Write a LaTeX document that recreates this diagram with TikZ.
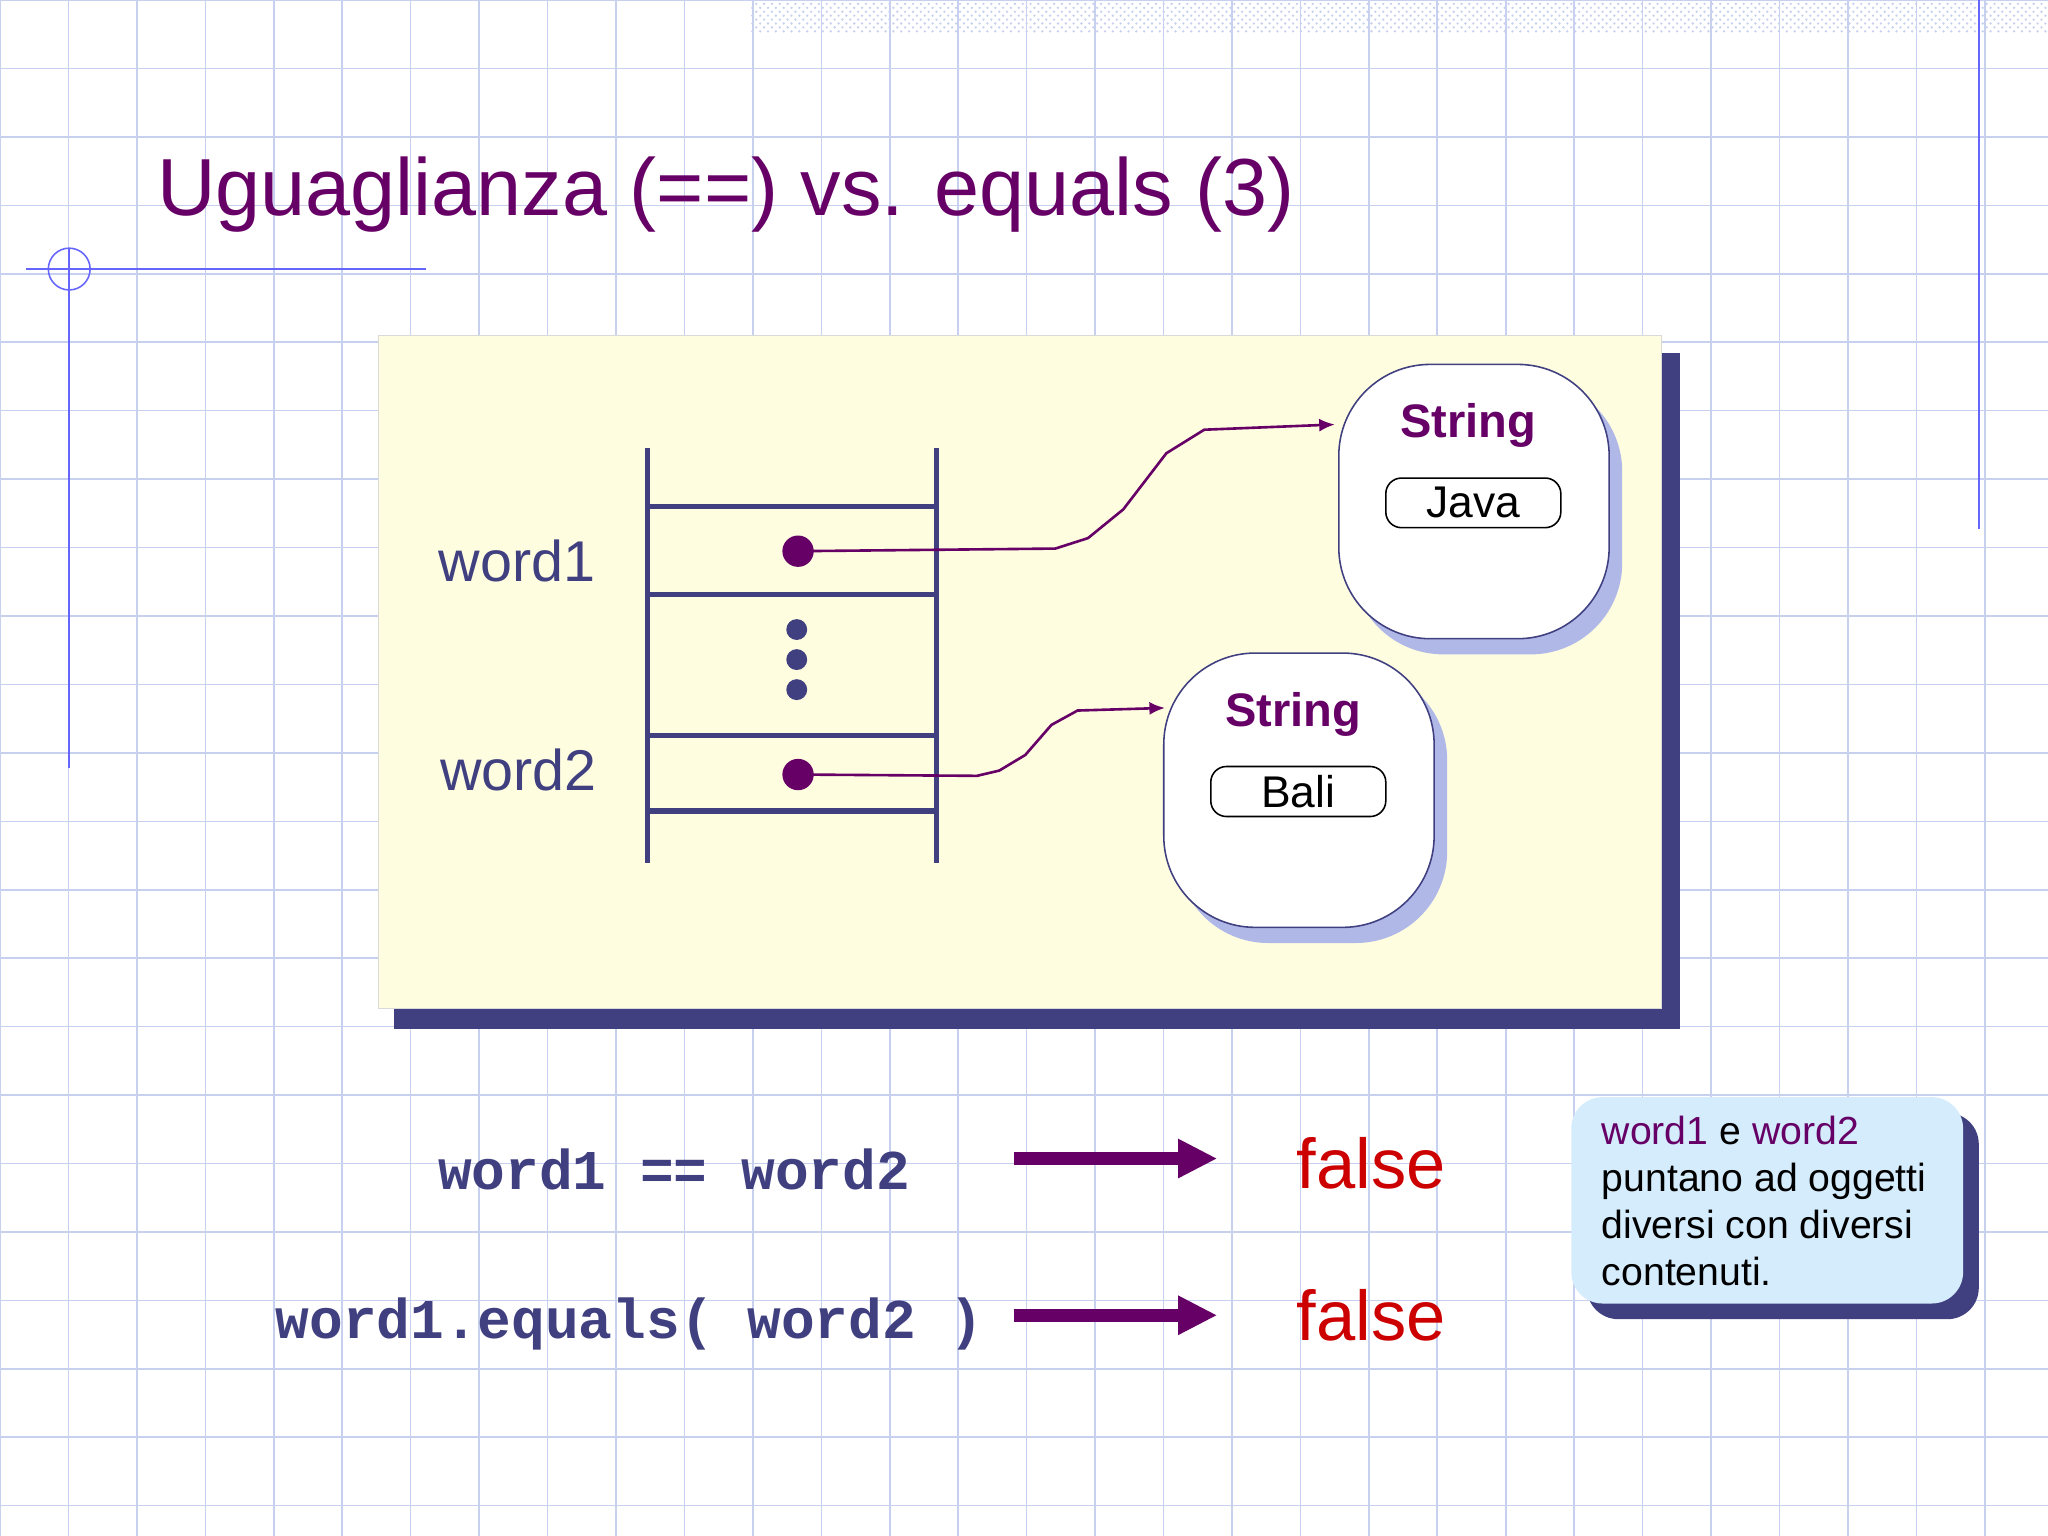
\documentclass[tikz,border=0pt]{standalone}
\usepackage{fontspec}
\setmainfont{Liberation Sans}
\newfontfamily\monob{Liberation Mono}
\usetikzlibrary{patterns,arrows.meta}
\definecolor{gridc}{HTML}{C8D0F0}
\definecolor{purp}{HTML}{660066}
\definecolor{dblue}{HTML}{404080}
\definecolor{panel}{HTML}{FFFDE0}
\definecolor{lshadow}{HTML}{B0B8E8}
\definecolor{callf}{HTML}{D4ECFC}
\definecolor{fred}{HTML}{CC0000}
\tikzset{
  stackln/.style={dblue,line width=2pt},
  objbox/.style={draw=dblue,fill=white,line width=0.6pt,rounded corners=35pt},
  objshadow/.style={fill=lshadow,rounded corners=35pt},
  valbox/.style={draw=black,line width=0.6pt,rounded corners=6pt,minimum width=67pt,minimum height=19pt,font=\fontsize{17}{19}\selectfont},
  strlbl/.style={text=purp,font=\bfseries\fontsize{18}{20}\selectfont},
  ptr/.style={purp,line width=1pt,-{Latex[length=6pt,width=5pt]}},
  bigarrow/.style={purp,line width=5pt,-{Triangle[length=15pt,width=14pt]}},
  code/.style={text=dblue,font=\monob\bfseries\fontsize{21.5}{24}\selectfont,anchor=base},
  falsel/.style={text=fred,font=\fontsize{27}{30}\selectfont,anchor=base},
  wlbl/.style={text=dblue,font=\fontsize{22}{24}\selectfont,anchor=base}
}
\begin{document}
\begin{tikzpicture}[x=0.5pt,y=-0.5pt]
\useasboundingbox (0,0) rectangle (1568,1176);
\fill[white] (0,0) rectangle (1568,1176);
\foreach \i in {0,...,30}{
  \draw[gridc,line width=0.6pt] ({52.4*\i},0) -- ({52.4*\i},1176);
}
\foreach \i in {0,...,23}{
  \draw[gridc,line width=0.6pt] (0,{52.4*\i}) -- (1568,{52.4*\i});
}
\fill[pattern=crosshatch dots,pattern color=gridc] (575,0) rectangle (1568,25);
\draw[blue!60,line width=0.6pt] (1515,0) -- (1515,405);
\draw[blue!60,line width=0.6pt] (20,206) -- (326,206);
\draw[blue!60,line width=0.6pt] (53,190) -- (53,588);
\draw[blue!60,line width=0.6pt] (53,206) circle (8pt);
\node[anchor=base west,text=purp,font=\fontsize{31}{34}\selectfont,inner sep=0] (title) at (120,165) {Uguaglianza (==) vs. equals (3)};
% panel
\fill[dblue] (302,270) rectangle (1286,788);
\fill[panel,draw=black!15] (290,257) rectangle (1272,772);
% stack
\draw[stackln] (496,343) -- (496,661);
\draw[stackln] (717,343) -- (717,661);
\foreach \yy in {388,455,563,621}{\draw[stackln] (496,\yy) -- (717,\yy);}
\node[wlbl] (w1) at (396,445) {word1};
\node[wlbl] (w2) at (397,605) {word2};
\foreach \yy in {482,505,528}{\fill[dblue] (610,\yy) circle (4pt);}
\node[circle,fill=purp,inner sep=0,minimum size=12pt] (d1) at (611,422) {};
\node[circle,fill=purp,inner sep=0,minimum size=12pt] (d2) at (611,593) {};
% objects
\fill[objshadow] (1035,291) rectangle (1242,501);
\node[objbox,minimum width=103.5pt,minimum height=105pt] (o1) at (1128.5,384) {};
\node[strlbl] (s1) at (1124,326) {String};
\node[valbox] (v1) at (1128,385) {Java};
\fill[objshadow] (901,512) rectangle (1108,722);
\node[objbox,minimum width=103.5pt,minimum height=105pt] (o2) at (994.5,605) {};
\node[strlbl] (s2) at (990,547) {String};
\node[valbox] (v2) at (994,606) {Bali};
\coordinate (t1) at (1022,325);
\coordinate (t2) at (892,542);
\draw[ptr] (d1.center) -- (808,420) -- (833,412) -- (860,390) -- (893,347) -- (922,329) -- (t1);
\draw[ptr] (d2.center) -- (748,594) -- (765,590) -- (785,578) -- (805,555) -- (825,544) -- (t2);
% code lines
\node[code] (c1) at (516,911) {word1 == word2};
\node[code] (c2) at (482,1025) {word1.equals( word2 )};
\coordinate (a1s) at (776,887); \coordinate (a1e) at (932,887);
\coordinate (a2s) at (776,1007); \coordinate (a2e) at (932,1007);
\draw[bigarrow] (a1s) -- (a1e);
\draw[bigarrow] (a2s) -- (a2e);
\node[falsel] (f1) at (1050,910) {false};
\node[falsel] (f2) at (1050,1026) {false};
% callout
\fill[dblue,rounded corners=12pt] (1215,852) rectangle (1515,1010);
\fill[callf,rounded corners=12pt] (1203,840) rectangle (1503,998);
\node[anchor=north west,align=left,font=\fontsize{15}{18}\selectfont,inner sep=0] (note) at (1226,854)
  {\textcolor{purp}{word1} e \textcolor{purp}{word2}\\puntano ad oggetti\\diversi con diversi\\contenuti.};
\end{tikzpicture}
\end{document}
